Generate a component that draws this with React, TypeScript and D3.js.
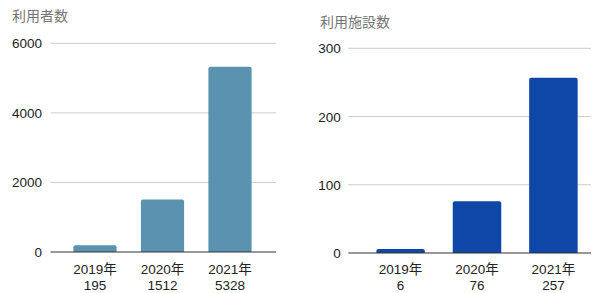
import React from "react";
import * as d3 from "d3";

const years = ["2019年", "2020年", "2021年"];
const users = [195, 1512, 5328];
const facilities = [6, 76, 257];
const userTicks = [0, 2000, 4000, 6000];
const facilityTicks = [0, 100, 200, 300];
const userTitle = "利用者数";
const facilityTitle = "利用施設数";

const FONT = "'Liberation Sans', Arial, 'Noto Sans CJK JP', sans-serif";

type PanelProps = {
  title: string;
  titleX: number;
  titleY: number;
  values: number[];
  ticks: number[];
  color: string;
  gridX: [number, number];
  bandRange: [number, number];
  padInner: number;
  yRange: [number, number];
  labelRight: number;
};

function Panel(p: PanelProps) {
  const max = p.ticks[p.ticks.length - 1];
  const y = d3.scaleLinear().domain([0, max]).range(p.yRange);
  const x = d3
    .scaleBand<string>()
    .domain(years)
    .range(p.bandRange)
    .paddingInner(p.padInner)
    .paddingOuter(0.18);
  const bw = x.bandwidth();
  return (
    <g>
      <text x={p.titleX} y={p.titleY} fontSize={14} fill="#757575" fontFamily={FONT}>
        {p.title}
      </text>
      {p.ticks.map((t) => (
        <g key={t}>
          {t !== 0 && (
            <line x1={p.gridX[0]} x2={p.gridX[1]} y1={y(t)} y2={y(t)} stroke="#cccccc" strokeWidth={1} />
          )}
          <text
            x={p.labelRight}
            y={y(t) + 5}
            textAnchor="end"
            fontSize={13.5}
            fill="#222"
            fontFamily={FONT}
          >
            {t}
          </text>
        </g>
      ))}
      {p.values.map((v, i) => {
        const x0 = x(years[i]) as number;
        const top = y(v);
        const h = y(0) - top;
        return (
          <path
            key={i}
            d={`M${x0},${y(0)} V${top + 2} Q${x0},${top} ${x0 + 2},${top} H${x0 + bw - 2} Q${x0 + bw},${top} ${x0 + bw},${top + 2} V${y(0)} Z`}
            fill={p.color}
            opacity={h > 0 ? 1 : 0}
          />
        );
      })}
      <line x1={p.gridX[0]} x2={p.gridX[1]} y1={y(0)} y2={y(0)} stroke="#333" strokeWidth={1} />
      {years.map((c, i) => {
        const cx = (x(c) as number) + bw / 2;
        return (
          <text key={c} textAnchor="middle" fontSize={13.5} fill="#222" fontFamily={FONT}>
            <tspan x={cx} y={274}>{c}</tspan>
            <tspan x={cx} y={289.5}>{p.values[i]}</tspan>
          </text>
        );
      })}
    </g>
  );
}

export default function App() {
  return (
    <svg
      width={603}
      height={293}
      style={{ position: "absolute", left: 0, top: 0, background: "#fff" }}
    >
      <rect width={603} height={293} fill="#fff" />
      <Panel
        title={userTitle}
        titleX={12}
        titleY={21}
        values={users}
        ticks={userTicks}
        color="#5a92b0"
        gridX={[50.5, 276]}
        bandRange={[61.25, 263.75]}
        padInner={0.36}
        yRange={[252, 43.3]}
        labelRight={42}
      />
      <Panel
        title={facilityTitle}
        titleX={320}
        titleY={26.5}
        values={facilities}
        ticks={facilityTicks}
        color="#0f47a8"
        gridX={[348.3, 591]}
        bandRange={[362.6, 591.4]}
        padInner={0.365}
        yRange={[253, 48.3]}
        labelRight={340.7}
      />
    </svg>
  );
}
